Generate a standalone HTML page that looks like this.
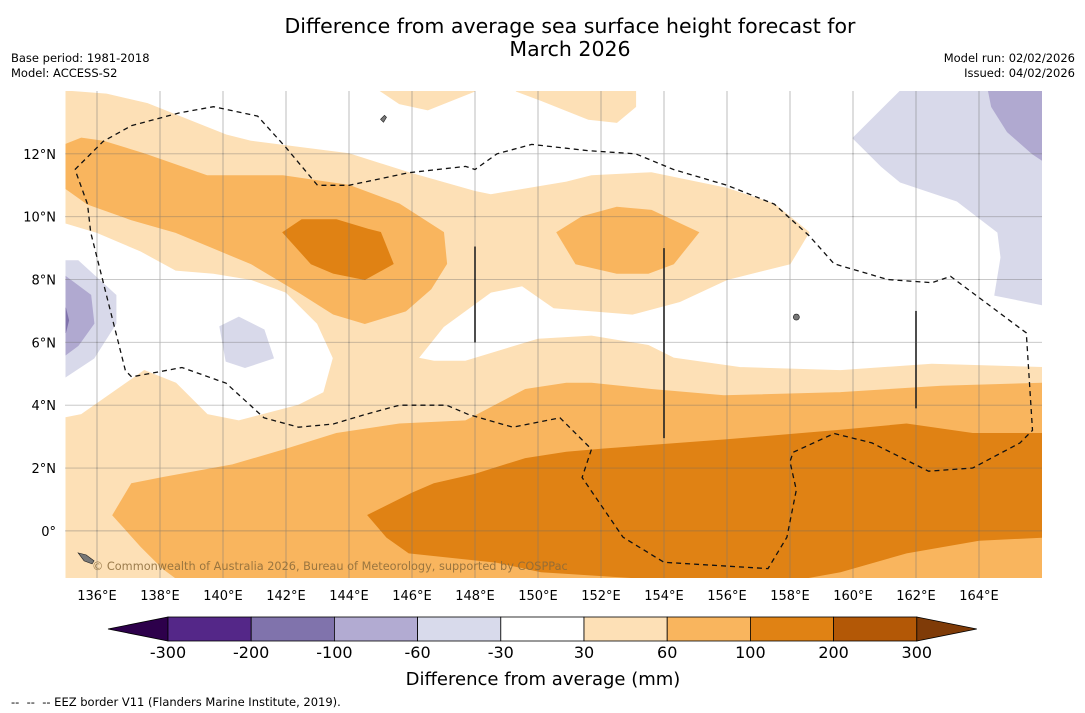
<!DOCTYPE html>
<html><head><meta charset="utf-8">
<style>
body{margin:0;background:#fff;font-family:"DejaVu Sans","Liberation Sans",sans-serif;}
#wrap{position:relative;width:1085px;height:713px;overflow:hidden;background:#fff;}
.t{position:absolute;white-space:nowrap;}
</style></head>
<body>
<div id="wrap">
<div class="t" style="left:0;width:1140px;top:15px;text-align:center;font-size:20.5px;line-height:23px;color:#000;">Difference from average sea surface height forecast for<br>March 2026</div>
<div class="t" style="left:11px;top:51px;font-size:11.5px;line-height:14.5px;">Base period: 1981-2018<br>Model: ACCESS-S2</div>
<div class="t" style="right:10px;top:51px;font-size:11.5px;line-height:14.5px;text-align:right;">Model run: 02/02/2026<br>Issued: 04/02/2026</div>
<svg id="svg" width="1085" height="713" style="position:absolute;left:0;top:0"></svg>
<div class="t" style="left:11px;top:695px;font-size:11.5px;">--&nbsp; --&nbsp; -- EEZ border V11 (Flanders Marine Institute, 2019).</div>
</div>
<script>
const NS='http://www.w3.org/2000/svg';
const FONT='DejaVu Sans, Liberation Sans, sans-serif';
const svg=document.getElementById('svg');
const lonTicks=[136,138,140,142,144,146,148,150,152,154,156,158,160,162,164];
const latTicks=[0,2,4,6,8,10,12];
const cbLevels=['-300','-200','-100','-60','-30','30','60','100','200','300'];
const cbColors=['#542788','#8073ac','#b2abd2','#d8daeb','#ffffff','#fde0b6','#f9b55e','#e08214','#b35806'];
const peachMain=[[135,14],[136.3,13.9],[137.6,13.6],[140.1,12.6],[140.9,12.4],[144,12],[145.9,11.4],[148,10.8],[148.5,10.7],[150.9,11.1],[151.7,11.3],[153.6,11.4],[156,10.9],[157.5,10.4],[158.6,9.5],[158,8.5],[156,8],[154.5,7.3],[153,6.9],[150.5,7.1],[149.5,7.8],[148.5,7.6],[147,6.5],[146.2,5.5],[146.7,5.4],[147.7,5.4],[150,6.1],[151.7,6.2],[153.5,5.9],[154.3,5.5],[156.4,5.2],[159.6,5.1],[162.5,5.3],[166,5.2],[166,-1.5],[135,-1.5],[135,3.6],[135.5,3.7],[137.5,5.1],[138.5,4.7],[139.5,3.7],[140.5,3.5],[142.4,4],[143.2,4.4],[143.5,5.5],[143,6.6],[142,7.6],[140.9,8],[139.7,8.2],[138.5,8.3],[137.4,8.9],[136,9.5],[135,9.8]];
const peachB=[[145,14],[145.6,13.6],[146.5,13.4],[148,14]];
const peachC=[[149.3,14],[150.1,13.7],[151.6,13.1],[152.5,13],[153.1,13.5],[153.1,14]];
const orangeUp=[[135,12.3],[135.5,12.5],[136.2,12.4],[137.5,12],[139.5,11.3],[141.9,11.3],[144,11],[145.6,10.4],[147,9.5],[147.1,8.5],[146.6,7.7],[145.8,7],[144.5,6.6],[143.5,6.9],[142.4,7.6],[140.9,8.5],[139.7,9],[138.5,9.5],[137.1,9.9],[135.7,10.4],[135,10.9]];
const orangeMid=[[150.6,9.5],[151.4,10],[152.5,10.3],[153.6,10.2],[155.1,9.5],[154.3,8.5],[153.5,8.2],[152.5,8.2],[151.2,8.5]];
const orangeLow=[[136.5,0.5],[137.1,1.5],[138.1,1.7],[140.3,2.1],[142,2.6],[143.6,3.1],[145.6,3.4],[147.7,3.5],[149.6,4.5],[150.9,4.7],[151.7,4.7],[153.6,4.5],[155.9,4.3],[159.6,4.4],[162.8,4.6],[166,4.7],[166,-1.5],[138.5,-1.5],[138.1,-1.2],[137.4,-0.5]];
const darkUp=[[141.9,9.5],[142.5,9.9],[143.6,9.9],[144.6,9.6],[145,9.5],[145.4,8.5],[144.5,8],[143.5,8.2],[142.8,8.5]];
const darkLow=[[144.6,0.5],[146,1.2],[146.7,1.5],[148,1.8],[149.6,2.3],[150.9,2.5],[152,2.6],[156,2.9],[159.6,3.2],[161.7,3.4],[163.8,3.1],[166,3.1],[166,-0.2],[164,-0.3],[161.7,-0.7],[159.6,-1.3],[158.5,-1.5],[153.2,-1.5],[150.1,-1.3],[148.7,-1],[145.9,-0.7],[145.2,-0.2]];
const purpleTR=[[160,12.5],[161.5,14],[166,14],[166,7.2],[164.5,7.5],[164.7,8.7],[164.6,9.5],[163.3,10.5],[161.5,11.1],[160.9,11.6]];
const purpleTR2=[[164.3,14],[164.4,13.5],[164.9,12.7],[165.7,12],[166,11.8],[166,14]];
const purpleL=[[135,8.6],[135.4,8.6],[136.6,7.5],[136.6,6.6],[135.9,5.5],[135,4.9]];
const purpleL2=[[135,8.1],[135.8,7.5],[135.9,6.6],[135.4,5.9],[135,5.6]];
const purpleL3=[[135,7.1],[135.1,6.7],[135,6.3]];
const purpleMid=[[139.9,6.5],[140.5,6.8],[141.3,6.4],[141.6,5.5],[140.7,5.2],[140.1,5.4]];
const eez=[[135.3,11.5],[136.2,12.4],[137.1,12.9],[138.6,13.3],[139.7,13.5],[141.1,13.2],[142,12.2],[143,11],[144,11],[145.9,11.4],[147.7,11.6],[148,11.5],[148.7,12],[149.8,12.3],[151.6,12.1],[153.1,12],[154.3,11.5],[156,11],[157.5,10.4],[158.6,9.4],[159.4,8.5],[161.1,8],[162.5,7.9],[163.1,8.1],[165.5,6.3],[165.7,3.2],[165.3,2.8],[163.8,2],[162.4,1.9],[160.6,2.8],[159.4,3.1],[158.1,2.5],[158,2.2],[158.2,1.3],[157.9,-0.2],[157.3,-1.2],[154,-1],[152.7,-0.2],[151.4,1.7],[151.7,2.6],[150.7,3.6],[149.2,3.3],[147.8,3.7],[147.1,4],[145.6,4],[144.5,3.7],[143.5,3.4],[142.4,3.3],[141.3,3.6],[140.1,4.7],[138.7,5.2],[137.1,4.9],[136.9,5.1],[135.8,9.5],[135.7,10.4],[135.3,11.5]];
const vlines=[[148,9.05,6],[154,9,2.95],[162,7,3.9]];
const LON0=135,LON1=166,LAT0=-1.5,LAT1=14;
const X0=65.5,X1=1042,Y0=578,Y1=91;
function sx(lon){return X0+(lon-LON0)/(LON1-LON0)*(X1-X0);}
function sy(lat){return Y0-(lat-LAT0)/(LAT1-LAT0)*(Y0-Y1);}
function el(tag,attrs,parent){const e=document.createElementNS(NS,tag);for(const k in attrs)e.setAttribute(k,attrs[k]);(parent||svg).appendChild(e);return e;}
function pts(a){return a.map(p=>sx(p[0]).toFixed(1)+','+sy(p[1]).toFixed(1)).join(' ');}
const clip=el('clipPath',{id:'mapclip'});el('rect',{x:X0,y:Y1,width:X1-X0,height:Y0-Y1},clip);
const g=el('g',{'clip-path':'url(#mapclip)'});


const layers=[[peachMain,'#fde0b6','contour-30-60'],[peachB,'#fde0b6','contour-30-60'],[peachC,'#fde0b6','contour-30-60'],[orangeUp,'#f9b55e','contour-60-100'],[orangeMid,'#f9b55e','contour-60-100'],[orangeLow,'#f9b55e','contour-60-100'],[darkUp,'#e08214','contour-100-200'],[darkLow,'#e08214','contour-100-200'],[purpleTR,'#d8d9ea','contour-neg30-60'],[purpleTR2,'#b0a9d0','contour-neg60-100'],[purpleL,'#d8d9ea','contour-neg30-60'],[purpleL2,'#b0a9d0','contour-neg60-100'],[purpleL3,'#8073ac','contour-neg100-200'],[purpleMid,'#d8d9ea','contour-neg30-60']];
layers.forEach(l=>{const p=el('polygon',{points:pts(l[0]),fill:l[1],stroke:l[1],'stroke-width':1},g);

});
lonTicks.forEach(v=>{const ln=el('line',{x1:sx(v),x2:sx(v),y1:Y1,y2:Y0,stroke:'#777','stroke-width':0.8,opacity:0.6},g);

});
latTicks.forEach(v=>{const ln=el('line',{x1:X0,x2:X1,y1:sy(v),y2:sy(v),stroke:'#666','stroke-width':0.9,'stroke-dasharray':'1,1',opacity:0.8},g);

});
const ez=el('polyline',{points:pts(eez),fill:'none',stroke:'#111','stroke-width':1.3,'stroke-dasharray':'5,4'},g);


vlines.forEach(v=>{const ln=el('line',{x1:sx(v[0]),x2:sx(v[0]),y1:sy(v[1]),y2:sy(v[2]),stroke:'#222','stroke-width':1.6},g);

});
[[135.4,-0.7,'M0,0 l8,2 l8,6 l-2,3 l-8,-3 z'],[145,13.1,'M0,0 l4,-4 l2,2 l-3,5 z'],[158.2,6.9,'M0,0 a3,3 0 1,0 0.1,0 z']].forEach(s=>{const p=el('path',{d:s[2],transform:'translate('+sx(s[0])+','+sy(s[1])+')',fill:'#777',stroke:'#222','stroke-width':0.6},g);

});
const cr=el('text',{x:92,y:570,'font-size':11.3,fill:'#8a6a3a','fill-opacity':0.85,'font-family':FONT},g);
cr.textContent='© Commonwealth of Australia 2026, Bureau of Meteorology, supported by COSPPac';


lonTicks.forEach(v=>{const t=el('text',{x:sx(v),y:600,'text-anchor':'middle','font-size':13,fill:'#000','font-family':FONT});t.textContent=v+'°E';

});
latTicks.forEach(v=>{const t=el('text',{x:56,y:sy(v)+5,'text-anchor':'end','font-size':13,fill:'#000','font-family':FONT});t.textContent=v===0?'0°':v+'°N';

});
const CB0=168,CBW=83.2,CBY=617,CBH=24;
const cb=el('g',{});


el('polygon',{points:`108,${CBY+CBH/2} ${CB0},${CBY} ${CB0},${CBY+CBH}`,fill:'#2d004b',stroke:'#000','stroke-width':0.8},cb);
cbColors.forEach((c,i)=>{const r=el('rect',{x:CB0+i*CBW,y:CBY,width:CBW,height:CBH,fill:c,stroke:'#000','stroke-width':0.8},cb);

});
const CBE=CB0+cbColors.length*CBW;
el('polygon',{points:`${CBE},${CBY} ${CBE+60},${CBY+CBH/2} ${CBE},${CBY+CBH}`,fill:'#7f3b08',stroke:'#000','stroke-width':0.8},cb);
cbLevels.forEach((v,i)=>{const t=el('text',{x:CB0+i*CBW,y:658,'text-anchor':'middle','font-size':16,fill:'#000','font-family':FONT},cb);t.textContent=v;

});
const ct=el('text',{x:543,y:685,'text-anchor':'middle','font-size':18,fill:'#000','font-family':FONT},cb);
ct.textContent='Difference from average (mm)';


</script>
</body></html>
